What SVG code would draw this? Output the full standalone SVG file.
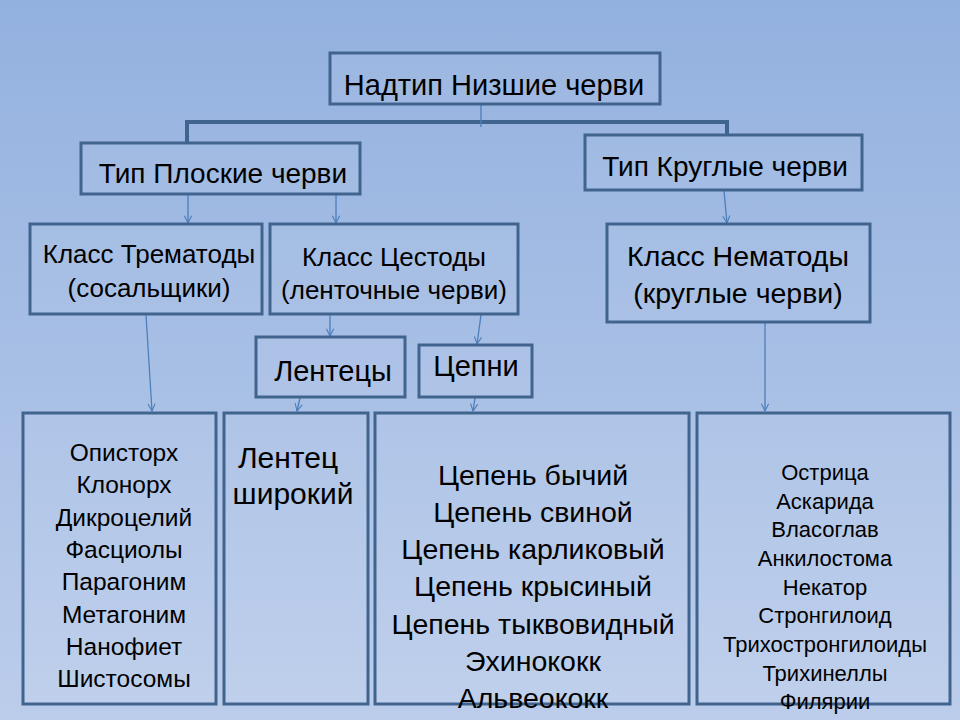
<svg xmlns="http://www.w3.org/2000/svg" width="960" height="720" viewBox="0 0 960 720">
<defs>
<linearGradient id="bg" x1="0" y1="0" x2="0" y2="1">
<stop offset="0" stop-color="#93b1df"/>
<stop offset="1" stop-color="#bccdeb"/>
</linearGradient>
<marker id="arr" viewBox="0 0 10 10" refX="9" refY="5" markerWidth="9" markerHeight="9" orient="auto" markerUnits="userSpaceOnUse">
<path d="M1,1 L9,5 L1,9" fill="none" stroke="#4a7ebb" stroke-width="1.2"/>
</marker>
<style>
.box{fill:#ffffff;fill-opacity:0.06;stroke:#41648f;stroke-width:3}
.t{font-family:"Liberation Sans",Arial,sans-serif;fill:#000;text-anchor:middle}
.c{fill:none;stroke:#4a7ebb;stroke-width:1.3}
</style>
</defs>
<rect width="960" height="720" fill="url(#bg)"/>
<g id="connectors">
<path d="M187,143 L187,122 L727,122 L727,135" fill="none" stroke="#41648f" stroke-width="4"/>
<line class="c" x1="481" y1="105" x2="481" y2="127"/>
<line class="c" x1="188" y1="195" x2="188" y2="223" marker-end="url(#arr)"/>
<line class="c" x1="336" y1="195" x2="336" y2="223" marker-end="url(#arr)"/>
<line class="c" x1="724" y1="191" x2="727" y2="223" marker-end="url(#arr)"/>
<line class="c" x1="146" y1="315" x2="152" y2="411" marker-end="url(#arr)"/>
<line class="c" x1="330" y1="315" x2="330" y2="336" marker-end="url(#arr)"/>
<line class="c" x1="481" y1="315" x2="477" y2="344" marker-end="url(#arr)"/>
<line class="c" x1="300" y1="398" x2="297" y2="411" marker-end="url(#arr)"/>
<line class="c" x1="475" y1="398" x2="473" y2="411" marker-end="url(#arr)"/>
<line class="c" x1="765" y1="323" x2="765" y2="411" marker-end="url(#arr)"/>
</g>
<g id="n-top"><rect class="box" x="330" y="53" width="330" height="51"/><text class="t" x="494" y="95" font-size="29">Надтип Низшие черви</text></g>
<g id="n-flat"><rect class="box" x="81" y="143" width="279" height="51"/><text class="t" x="223" y="183" font-size="28">Тип Плоские черви</text></g>
<g id="n-round"><rect class="box" x="585" y="135" width="277" height="55"/><text class="t" x="725" y="176" font-size="28">Тип Круглые черви</text></g>
<g id="n-trem"><rect class="box" x="30" y="224" width="232" height="90"/><text class="t" x="149" y="263" font-size="26">Класс Трематоды</text><text class="t" x="149" y="297" font-size="26">(сосальщики)</text></g>
<g id="n-cest"><rect class="box" x="270" y="224" width="248" height="90"/><text class="t" x="394" y="266" font-size="26">Класс Цестоды</text><text class="t" x="394" y="299" font-size="26">(ленточные черви)</text></g>
<g id="n-nem"><rect class="box" x="607" y="224" width="263" height="98"/><text class="t" x="738" y="266" font-size="28.5">Класс Нематоды</text><text class="t" x="738" y="303" font-size="28.5">(круглые черви)</text></g>
<g id="n-lent"><rect class="box" x="256" y="337" width="149" height="60"/><text class="t" x="333" y="381" font-size="29">Лентецы</text></g>
<g id="n-cepni"><rect class="box" x="419" y="345" width="113" height="52"/><text class="t" x="476" y="376" font-size="29">Цепни</text></g>
<g id="n-tremlist"><rect class="box" x="23" y="413" width="193" height="291"/>
<text class="t" font-size="24.5" x="124"><tspan x="124" y="461">Описторх</tspan><tspan x="124" y="493">Клонорх</tspan><tspan x="124" y="526">Дикроцелий</tspan><tspan x="124" y="558">Фасциолы</tspan><tspan x="124" y="590">Парагоним</tspan><tspan x="124" y="623">Метагоним</tspan><tspan x="124" y="655">Нанофиет</tspan><tspan x="124" y="687">Шистосомы</tspan></text></g>
<g id="n-lentlist"><rect class="box" x="224" y="413" width="144" height="291"/>
<text class="t" font-size="30" x="293"><tspan x="288" y="468">Лентец</tspan><tspan x="293" y="504">широкий</tspan></text></g>
<g id="n-cepnilist"><rect class="box" x="375" y="413" width="314" height="291"/>
<text class="t" font-size="28.5" x="533"><tspan x="533" y="485">Цепень бычий</tspan><tspan x="533" y="522">Цепень свиной</tspan><tspan x="533" y="559">Цепень карликовый</tspan><tspan x="533" y="596">Цепень крысиный</tspan><tspan x="533" y="634">Цепень тыквовидный</tspan><tspan x="533" y="671">Эхинококк</tspan><tspan x="533" y="708">Альвеококк</tspan></text></g>
<g id="n-nemlist"><rect class="box" x="697" y="413" width="253" height="291"/>
<text class="t" font-size="22" x="825"><tspan x="825" y="480">Острица</tspan><tspan x="825" y="509">Аскарида</tspan><tspan x="825" y="537">Власоглав</tspan><tspan x="825" y="566">Анкилостома</tspan><tspan x="825" y="595">Некатор</tspan><tspan x="825" y="623">Стронгилоид</tspan><tspan x="825" y="652">Трихостронгилоиды</tspan><tspan x="825" y="681">Трихинеллы</tspan><tspan x="825" y="709">Филярии</tspan></text></g>
</svg>
